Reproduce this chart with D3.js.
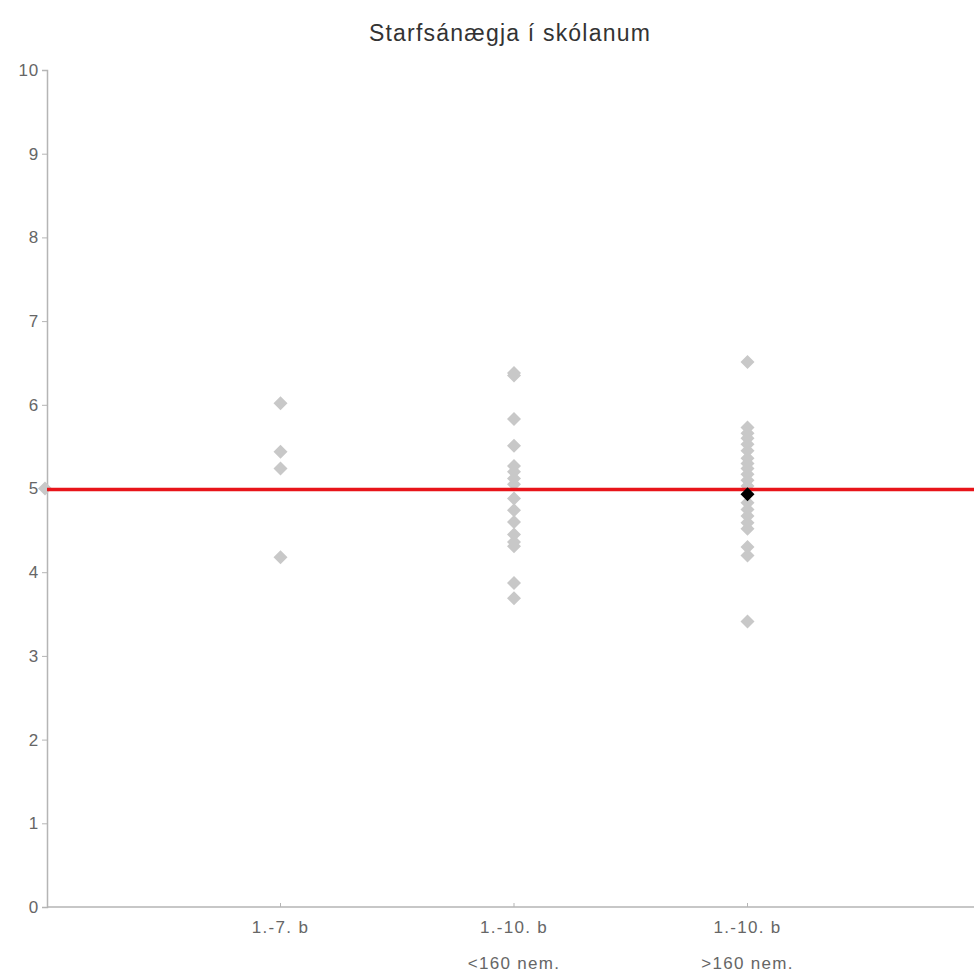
<!DOCTYPE html>
<html>
<head>
<meta charset="utf-8">
<script src="https://cdn.jsdelivr.net/npm/d3@7"></script>
<style>
  html, body { margin: 0; padding: 0; background: #fff; }
  svg { display: block; font-family: "Liberation Sans", Arial, sans-serif; }
</style>
</head>
<body>
<svg id="chart" width="974" height="973"></svg>
<script>
const title = "Starfsánægja í skólanum";
const categories = [
  ["1.-7. b"],
  ["1.-10. b", "<160 nem."],
  ["1.-10. b", ">160 nem."]
];
const yTicks = [0, 1, 2, 3, 4, 5, 6, 7, 8, 9, 10];
const seriesA = [6.02, 5.44, 5.24, 4.18];
const seriesB = [6.38, 6.35, 5.83, 5.51, 5.27, 5.20, 5.12, 5.05, 4.88, 4.74, 4.60, 4.45, 4.36, 4.31, 3.87, 3.69];
const seriesC = [6.51, 5.73, 5.66, 5.60, 5.53, 5.45, 5.36, 5.30, 5.24, 5.17, 5.10, 5.03, 4.83, 4.75, 4.67, 4.59, 4.52, 4.30, 4.20, 3.41];
const highlight = { cat: 3, value: 4.93 };
const benchmark = 5;

const svg = d3.select("#chart");
const x = d3.scaleLinear().domain([0, 4]).range([47, 981]);
const y = d3.scaleLinear().domain([0, 10]).range([907, 70]);

const axisColor = "#b5b5b5";
const textColor = "#666";

// title
svg.append("text")
  .attr("x", 510).attr("y", 41)
  .attr("text-anchor", "middle")
  .attr("font-size", 23)
  .attr("letter-spacing", 1.2)
  .attr("fill", "#333")
  .text(title);

// y axis
const yAxis = svg.append("g")
  .attr("transform", `translate(${x(0)},0)`)
  .call(d3.axisLeft(y).tickValues(yTicks).tickSize(5).tickPadding(3).tickFormat(d3.format("d")));
yAxis.select(".domain").attr("stroke", axisColor).attr("stroke-width", 1.5);
yAxis.selectAll(".tick line").attr("stroke", axisColor);
yAxis.selectAll(".tick text").attr("fill", textColor).attr("font-size", 17)
  .attr("letter-spacing", 0.8)
  .attr("font-family", "Liberation Sans, Arial, sans-serif");

// x axis line
svg.append("line")
  .attr("x1", x(0)).attr("x2", 974)
  .attr("y1", y(0)).attr("y2", y(0))
  .attr("stroke", axisColor).attr("stroke-width", 1.5);

// x ticks and labels
const xg = svg.append("g");
categories.forEach((lines, i) => {
  const cx = x(i + 1);
  xg.append("line").attr("x1", cx).attr("x2", cx)
    .attr("y1", y(0)).attr("y2", y(0) - 4)
    .attr("stroke", axisColor);
  lines.forEach((t, j) => {
    xg.append("text")
      .attr("x", cx).attr("y", y(0) + 26 + j * 36)
      .attr("text-anchor", "middle")
      .attr("font-size", 17)
      .attr("letter-spacing", 1.3)
      .attr("fill", textColor)
      .text(t);
  });
});

const diamond = (cx, cy, r) => `M${cx},${cy - r}L${cx + r},${cy}L${cx},${cy + r}L${cx - r},${cy}Z`;
const r = 7;
const gray = "#c8c8c8";

// left marker at benchmark
svg.append("path").attr("d", diamond(x(0) - 2, y(benchmark), r)).attr("fill", gray);

const pts = [];
[seriesA, seriesB, seriesC].forEach((s, i) => s.forEach(v => pts.push({ c: i + 1, v })));
svg.append("g").selectAll("path").data(pts).join("path")
  .attr("d", d => diamond(x(d.c), y(d.v), r))
  .attr("fill", gray);

// benchmark line
svg.append("line")
  .attr("x1", x(0)).attr("x2", 974)
  .attr("y1", y(benchmark) + 1).attr("y2", y(benchmark) + 1)
  .attr("stroke", "#e8141a").attr("stroke-width", 3.5);

// highlight point
svg.append("path")
  .attr("d", diamond(x(highlight.cat), y(highlight.value), r))
  .attr("fill", "#000");
</script>
</body>
</html>
